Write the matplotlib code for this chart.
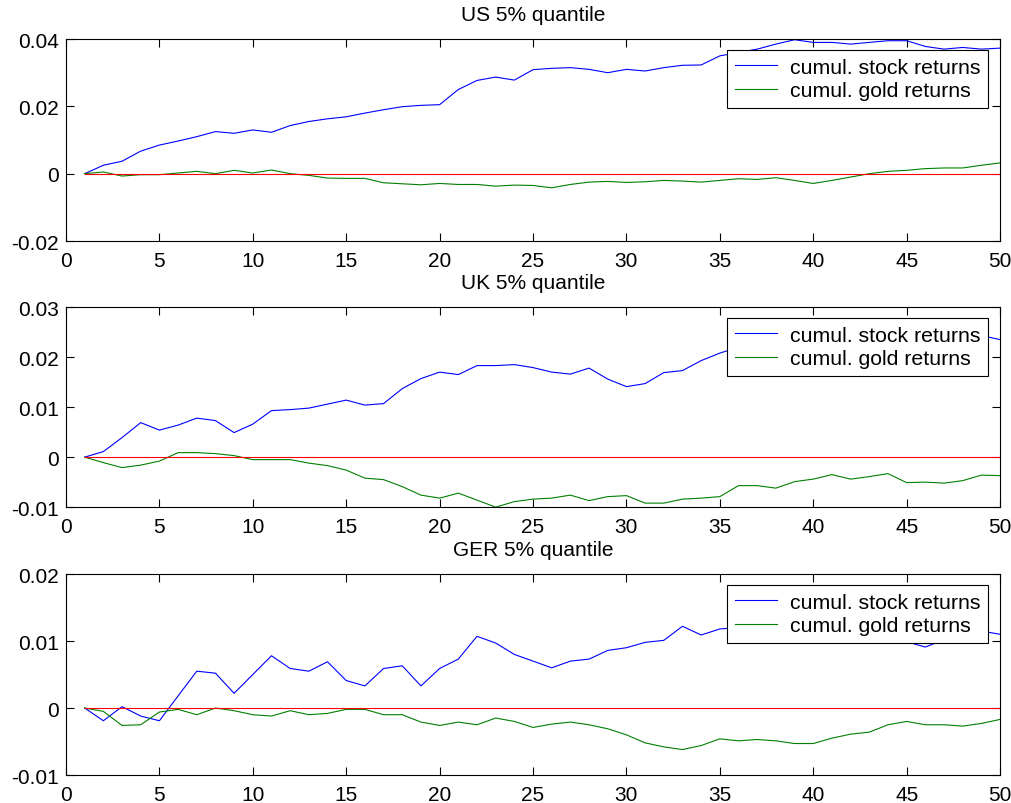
import numpy as np
import matplotlib
matplotlib.use("Agg")
import matplotlib.pyplot as plt
from matplotlib.ticker import FuncFormatter

plt.rcParams['font.family'] = ['Liberation Sans', 'DejaVu Sans']
plt.rcParams['axes.unicode_minus'] = False

horizon = np.arange(1, 51)

# US 5% quantile
us_stock = [0, 0.0025, 0.0037, 0.0067, 0.0085, 0.0097, 0.011, 0.0125, 0.012, 0.013,
            0.0123, 0.0143, 0.0155, 0.0163, 0.0169, 0.018, 0.019, 0.0199, 0.0203, 0.0205,
            0.025, 0.0277, 0.0287, 0.0278, 0.0309, 0.0313, 0.0315, 0.031, 0.030, 0.031,
            0.0305, 0.0315, 0.0322, 0.0323, 0.035, 0.036, 0.037, 0.0385, 0.0398, 0.039,
            0.039, 0.0385, 0.039, 0.0395, 0.0395, 0.0378, 0.037, 0.0375, 0.037, 0.0373]
us_gold = [0, 0.0005, -0.0007, -0.0003, -0.0003, 0.0002, 0.0007, 0.0, 0.001, 0.0002,
           0.0011, 0.0, -0.0005, -0.0013, -0.0014, -0.0014, -0.0027, -0.003, -0.0033, -0.0029,
           -0.0032, -0.0032, -0.0037, -0.0034, -0.0035, -0.0042, -0.0032, -0.0025, -0.0023, -0.0026,
           -0.0024, -0.002, -0.0022, -0.0025, -0.002, -0.0015, -0.0017, -0.0012, -0.002, -0.0029,
           -0.002, -0.001, 0.0, 0.0007, 0.001, 0.0015, 0.0017, 0.0017, 0.0025, 0.0032]

# UK 5% quantile
uk_stock = [0, 0.0011, 0.0039, 0.0069, 0.0054, 0.0064, 0.0078, 0.0073, 0.0049, 0.0066,
            0.0093, 0.0095, 0.0098, 0.0106, 0.0114, 0.0104, 0.0107, 0.0137, 0.0157, 0.017,
            0.0165, 0.0183, 0.0183, 0.0185, 0.0179, 0.017, 0.0166, 0.0178, 0.0156, 0.0141,
            0.0147, 0.0169, 0.0173, 0.0193, 0.0208, 0.022, 0.0225, 0.0235, 0.023, 0.024,
            0.0245, 0.025, 0.0245, 0.0255, 0.0245, 0.025, 0.0245, 0.0248, 0.0243, 0.0235]
uk_gold = [0, -0.0011, -0.0021, -0.0016, -0.0008, 0.0009, 0.0009, 0.0007, 0.0003, -0.0005,
           -0.0005, -0.0005, -0.0012, -0.0017, -0.0026, -0.0042, -0.0045, -0.0059, -0.0076, -0.0082,
           -0.0072, -0.0086, -0.0100, -0.0089, -0.0084, -0.0082, -0.0076, -0.0087, -0.0079, -0.0077,
           -0.0092, -0.0092, -0.0084, -0.0082, -0.0079, -0.0057, -0.0057, -0.0062, -0.0049, -0.0044,
           -0.0035, -0.0044, -0.0039, -0.0033, -0.0051, -0.005, -0.0052, -0.0047, -0.0036, -0.0037]

# GER 5% quantile
ger_stock = [0, -0.0019, 0.0002, -0.0012, -0.0019, 0.0018, 0.0055, 0.0052, 0.0022, 0.005,
             0.0078, 0.0059, 0.0055, 0.0069, 0.0041, 0.0033, 0.0059, 0.0063, 0.0033, 0.0059,
             0.0073, 0.0107, 0.0097, 0.008, 0.007, 0.006, 0.007, 0.0073, 0.0086, 0.009,
             0.0098, 0.0101, 0.0122, 0.0109, 0.0118, 0.012, 0.0125, 0.013, 0.0122, 0.0128,
             0.0118, 0.0112, 0.0105, 0.010, 0.0099, 0.0091, 0.0102, 0.0112, 0.0115, 0.011]
ger_gold = [0, -0.0005, -0.0026, -0.0025, -0.0006, -0.0002, -0.001, 0.0, -0.0004, -0.001,
            -0.0012, -0.0004, -0.001, -0.0008, -0.0002, -0.0002, -0.001, -0.001, -0.0021, -0.0026,
            -0.0021, -0.0025, -0.0015, -0.002, -0.0029, -0.0024, -0.0021, -0.0025, -0.0031, -0.004,
            -0.0052, -0.0058, -0.0062, -0.0056, -0.0046, -0.0049, -0.0047, -0.0049, -0.0053, -0.0053,
            -0.0045, -0.0039, -0.0036, -0.0025, -0.002, -0.0025, -0.0025, -0.0027, -0.0023, -0.0017]

titles = ['US 5% quantile', 'UK 5% quantile', 'GER 5% quantile']
stocks = [us_stock, uk_stock, ger_stock]
golds = [us_gold, uk_gold, ger_gold]
ylims = [(-0.02, 0.04), (-0.01, 0.03), (-0.01, 0.02)]
yticks = [[-0.02, 0, 0.02, 0.04], [-0.01, 0, 0.01, 0.02, 0.03], [-0.01, 0, 0.01, 0.02]]

fig = plt.figure(figsize=(10.12, 8.04), dpi=100)
# axes boxes in figure coords (left, bottom, width, height)
boxes = [[0.0652, 0.699, 0.923, 0.2512],
         [0.0652, 0.368, 0.923, 0.2488],
         [0.0652, 0.0348, 0.923, 0.25]]

fs = 15
for i in range(3):
    ax = fig.add_axes(boxes[i])
    ax.plot(horizon, stocks[i], color='#0000ff', lw=0.8, label='cumul. stock returns')
    ax.plot(horizon, golds[i], color='#008000', lw=0.8, label='cumul. gold returns')
    ax.plot(horizon, np.zeros(len(horizon)), color='#ff0000', lw=0.8)
    ax.set_xlim(0, 50)
    ax.set_ylim(*ylims[i])
    ax.set_xticks(range(0, 51, 5))
    ax.set_yticks(yticks[i])
    ax.yaxis.set_major_formatter(FuncFormatter(lambda v, p: '%g' % round(v, 4)))
    ax.tick_params(direction='in', length=6, width=0.8, top=True, right=True,
                   labelsize=fs)
    ax.tick_params(axis='x', pad=7)
    ax.tick_params(axis='y', pad=5)
    for s in ax.spines.values():
        s.set_linewidth(0.8)
    ax.set_title(titles[i], fontsize=fs, pad=14)
    leg = ax.legend(loc='upper right', bbox_to_anchor=(0.987, 0.945), fontsize=15.3,
                    frameon=True, fancybox=False, edgecolor='black', framealpha=1,
                    borderpad=0.35, labelspacing=0.22, handlelength=2.0,
                    handletextpad=0.6, borderaxespad=0)
    leg.get_frame().set_linewidth(0.8)

fig.savefig('out.png', dpi=100)
